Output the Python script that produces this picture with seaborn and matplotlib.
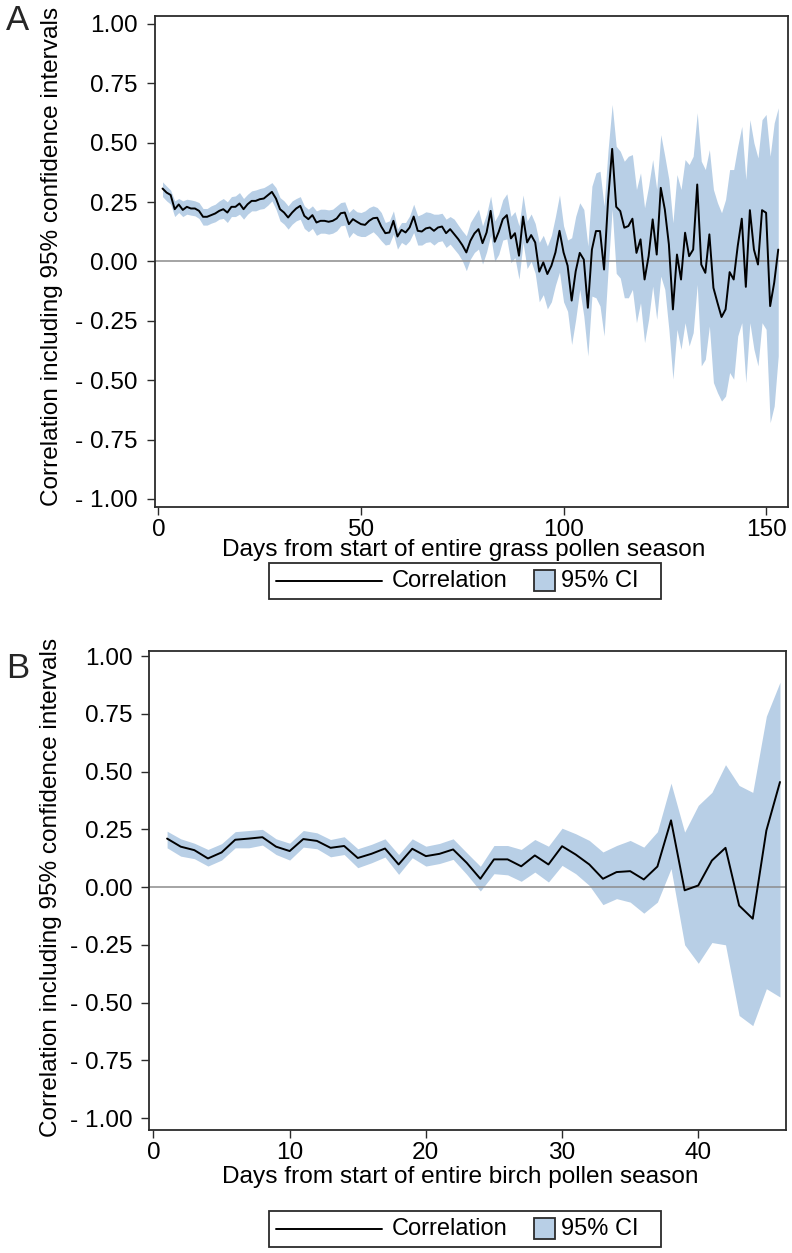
import matplotlib
matplotlib.use("Agg")
import numpy as np
import pandas as pd
import seaborn as sns
import matplotlib.pyplot as plt
from matplotlib.lines import Line2D
from matplotlib.patches import Rectangle
from matplotlib.offsetbox import DrawingArea, TextArea, HPacker, AnchoredOffsetbox

# ---------------- data ----------------
grass_day = list(range(1, 154))
grass_r = [0.307, 0.29, 0.28, 0.22, 0.24, 0.217, 0.23, 0.223, 0.223, 0.213,
           0.188, 0.188, 0.195, 0.202, 0.213, 0.22, 0.206, 0.23, 0.23, 0.244,
           0.22, 0.241, 0.255, 0.255, 0.262, 0.265, 0.279, 0.293, 0.265, 0.22,
           0.206, 0.185, 0.206, 0.223, 0.234, 0.192, 0.178, 0.195, 0.164, 0.171,
           0.171, 0.167, 0.171, 0.181, 0.203, 0.206, 0.157, 0.178, 0.167, 0.157,
           0.154, 0.171, 0.182, 0.184, 0.147, 0.119, 0.122, 0.171, 0.105, 0.133,
           0.122, 0.143, 0.189, 0.129, 0.126, 0.139, 0.143, 0.129, 0.143, 0.147,
           0.119, 0.136, 0.115, 0.094, 0.069, 0.038, 0.087, 0.118, 0.136, 0.077,
           0.122, 0.213, 0.083, 0.125, 0.178, 0.195, 0.097, 0.119, 0.024, 0.189,
           0.08, 0.111, 0.08, -0.043, -0.004, -0.053, -0.018, 0.038, 0.129, 0.038,
           -0.018, -0.165, -0.041, 0.036, 0.008, -0.195, 0.05, 0.128, 0.128, -0.034,
           0.261, 0.474, 0.23, 0.212, 0.142, 0.149, 0.18, 0.036, 0.093, -0.076,
           0.022, 0.177, 0.029, 0.31, 0.219, 0.072, -0.202, 0.029, -0.076, 0.121,
           0.022, 0.05, 0.324, -0.013, -0.048, 0.114, -0.111, -0.174, -0.234, -0.202,
           -0.045, -0.076, 0.065, 0.18, -0.107, 0.216, 0.05, -0.013, 0.216, 0.205,
           -0.188, -0.09, 0.05]
grass_lo = [0.273, 0.255, 0.241, 0.189, 0.206, 0.189, 0.199, 0.195, 0.192, 0.181,
            0.153, 0.153, 0.161, 0.167, 0.178, 0.181, 0.164, 0.189, 0.189, 0.199,
            0.178, 0.199, 0.213, 0.213, 0.22, 0.223, 0.237, 0.255, 0.22, 0.171,
            0.157, 0.136, 0.157, 0.171, 0.178, 0.139, 0.125, 0.139, 0.11, 0.119,
            0.119, 0.115, 0.119, 0.129, 0.15, 0.153, 0.1, 0.122, 0.11, 0.105,
            0.105, 0.115, 0.125, 0.108, 0.087, 0.069, 0.073, 0.115, 0.052, 0.08,
            0.069, 0.087, 0.122, 0.069, 0.069, 0.08, 0.083, 0.069, 0.083, 0.087,
            0.059, 0.073, 0.052, 0.031, 0.003, -0.039, 0.01, 0.038, 0.052, -0.011,
            0.04, 0.11, 0.0, 0.03, 0.09, 0.095, -0.005, 0.016, -0.075, 0.08,
            -0.03, 0.0, -0.05, -0.17, -0.14, -0.2, -0.17, -0.1, -0.045, -0.17,
            -0.21, -0.35, -0.244, -0.118, -0.23, -0.398, -0.146, -0.153, -0.188, -0.314,
            -0.034, 0.22, -0.05, -0.07, -0.153, -0.153, -0.118, -0.258, -0.174, -0.342,
            -0.244, -0.104, -0.244, -0.062, -0.118, -0.286, -0.496, -0.286, -0.37, -0.258,
            -0.356, -0.3, -0.097, -0.44, -0.412, -0.272, -0.51, -0.553, -0.588, -0.567,
            -0.468, -0.496, -0.314, -0.258, -0.51, -0.258, -0.37, -0.44, -0.258, -0.286,
            -0.679, -0.609, -0.398]
grass_hi = [0.335, 0.317, 0.3, 0.255, 0.265, 0.255, 0.262, 0.259, 0.255, 0.248,
            0.223, 0.223, 0.234, 0.241, 0.255, 0.265, 0.251, 0.273, 0.276, 0.29,
            0.265, 0.283, 0.297, 0.301, 0.307, 0.311, 0.321, 0.332, 0.311, 0.269,
            0.255, 0.234, 0.255, 0.265, 0.273, 0.234, 0.22, 0.234, 0.213, 0.22,
            0.22, 0.217, 0.22, 0.234, 0.248, 0.251, 0.206, 0.223, 0.209, 0.206,
            0.213, 0.227, 0.234, 0.227, 0.206, 0.164, 0.171, 0.213, 0.136, 0.164,
            0.164, 0.192, 0.241, 0.192, 0.199, 0.209, 0.206, 0.199, 0.199, 0.203,
            0.178, 0.189, 0.178, 0.153, 0.129, 0.108, 0.164, 0.192, 0.22, 0.15,
            0.2, 0.275, 0.17, 0.2, 0.26, 0.285, 0.19, 0.21, 0.15, 0.28,
            0.17, 0.2, 0.16, 0.08, 0.11, 0.065, 0.11, 0.19, 0.28, 0.15,
            0.09, 0.1, 0.19, 0.247, 0.219, 0.065, 0.317, 0.373, 0.38, 0.233,
            0.471, 0.661, 0.485, 0.464, 0.422, 0.443, 0.45, 0.303, 0.373, 0.226,
            0.317, 0.429, 0.303, 0.534, 0.443, 0.345, 0.163, 0.366, 0.303, 0.429,
            0.408, 0.443, 0.626, 0.422, 0.387, 0.471, 0.303, 0.247, 0.205, 0.261,
            0.387, 0.387, 0.485, 0.569, 0.345, 0.597, 0.499, 0.436, 0.597, 0.619,
            0.443, 0.583, 0.647]

birch_day = list(range(1, 47))
birch_r = [0.21, 0.175, 0.16, 0.124, 0.15, 0.205, 0.21, 0.216, 0.175, 0.156,
           0.208, 0.2, 0.17, 0.178, 0.126, 0.144, 0.167, 0.098, 0.166, 0.134,
           0.144, 0.163, 0.105, 0.036, 0.12, 0.12, 0.09, 0.137, 0.098, 0.177,
           0.141, 0.098, 0.036, 0.065, 0.069, 0.033, 0.089, 0.289, -0.014, 0.007,
           0.115, 0.17, -0.08, -0.137, 0.245, 0.455]
birch_lo = [0.17, 0.134, 0.123, 0.091, 0.117, 0.17, 0.17, 0.182, 0.141, 0.117,
            0.173, 0.166, 0.131, 0.141, 0.084, 0.105, 0.13, 0.055, 0.127, 0.091,
            0.102, 0.12, 0.055, -0.017, 0.058, 0.053, 0.025, 0.065, 0.022, 0.094,
            0.058, 0.007, -0.076, -0.05, -0.065, -0.113, -0.065, 0.08, -0.25, -0.33,
            -0.24, -0.25, -0.556, -0.6, -0.44, -0.476]
birch_hi = [0.242, 0.209, 0.19, 0.163, 0.188, 0.24, 0.245, 0.25, 0.209, 0.19,
            0.245, 0.235, 0.206, 0.218, 0.166, 0.185, 0.209, 0.141, 0.209, 0.177,
            0.189, 0.209, 0.149, 0.09, 0.18, 0.18, 0.163, 0.206, 0.177, 0.255,
            0.231, 0.202, 0.152, 0.18, 0.202, 0.173, 0.24, 0.45, 0.238, 0.354,
            0.41, 0.53, 0.44, 0.41, 0.74, 0.887]

y_ticks = [1.0, 0.75, 0.5, 0.25, 0.0, -0.25, -0.5, -0.75, -1.0]
y_tick_labels = ["1.00", "0.75", "0.50", "0.25", "0.00",
                 "- 0.25", "- 0.50", "- 0.75", "- 1.00"]
grass_xticks = [0, 50, 100, 150]
birch_xticks = [0, 10, 20, 30, 40]
ylabel_text = "Correlation including 95% confidence intervals"
grass_xlabel = "Days from start of entire grass pollen season"
birch_xlabel = "Days from start of entire birch pollen season"
legend_labels = ["Correlation", "95% CI"]

# ---------------- style ----------------
sns.set_theme(style="white")
plt.rcParams["font.family"] = ["Liberation Sans", "DejaVu Sans"]
BAND = "#b8cfe6"
FRAME = "#2b2b2b"
FS = 17.6
LFS = 17.0

fig = plt.figure(figsize=(7.92, 12.53), dpi=100)
axA = fig.add_axes([0.1952, 0.5954, 0.7997, 0.3919])
axB = fig.add_axes([0.1881, 0.0985, 0.8043, 0.3819])


def draw_panel(ax, days, r, lo, hi, xlim, ylim, xticks, xlabel, xlab_xy, ylab_xy):
    df = pd.DataFrame({"day": days, "r": r, "lo": lo, "hi": hi})
    ax.fill_between(df["day"], df["lo"], df["hi"], color=BAND, lw=0, zorder=1)
    ax.axhline(0, color="#8c8c8c", lw=1.1, zorder=2)
    sns.lineplot(data=df, x="day", y="r", ax=ax, color="black", lw=1.4,
                 errorbar=None, zorder=3)
    ax.set_xlim(*xlim)
    ax.set_ylim(*ylim)
    ax.set_yticks(y_ticks)
    ax.set_yticklabels(y_tick_labels)
    ax.set_xticks(xticks)
    ax.set_xticklabels([str(t) for t in xticks])
    ax.tick_params(axis="both", which="major", direction="out", length=6,
                   width=1.0, color=FRAME, labelsize=FS, labelcolor="black",
                   bottom=True, left=True, top=False, right=False)
    ax.tick_params(axis="x", pad=3)
    ax.tick_params(axis="y", pad=6)
    for sp in ax.spines.values():
        sp.set_visible(True)
        sp.set_color(FRAME)
        sp.set_linewidth(1.3)
    ax.set_xlabel(xlabel, fontsize=FS, color="black", va="center")
    ax.set_ylabel(ylabel_text, fontsize=FS, color="black", va="center")
    ax.xaxis.set_label_coords(*xlab_xy)
    ax.yaxis.set_label_coords(*ylab_xy)
    ax.grid(False)


draw_panel(axA, grass_day, grass_r, grass_lo, grass_hi, (-0.96, 155.4),
           (-1.034, 1.034), grass_xticks, grass_xlabel,
           (0.5 - 8 / 633.4, -(550 - 507) / 491),
           ((52 - 154.6) / 633.4, 0.5 + 5 / 491))
draw_panel(axB, birch_day, birch_r, birch_lo, birch_hi, (-0.33, 46.44),
           (-1.05, 1.022), birch_xticks, birch_xlabel,
           (0.5 - 7 / 637, -(1177 - 1129.6) / 478.6),
           ((51 - 149) / 637, 0.5 + 3 / 478.6))


def add_legend(center_xy):
    line_da = DrawingArea(76, 14, 0, 0)
    line_da.add_artist(Line2D([0, 76], [7, 7], color="black", lw=1.4))
    sq_da = DrawingArea(15.5, 15.5, 0, 0)
    sq_da.add_artist(Rectangle((0.5, 0.5), 15, 15, facecolor=BAND,
                               edgecolor=FRAME, lw=1.3))
    t1 = TextArea(legend_labels[0], textprops=dict(fontsize=LFS, color="black"))
    t2 = TextArea(legend_labels[1], textprops=dict(fontsize=LFS, color="black"))
    right_pad = DrawingArea(7, 1, 0, 0)
    g1 = HPacker(children=[line_da, t1], align="center", pad=0, sep=7)
    g2 = HPacker(children=[sq_da, t2, right_pad], align="center", pad=0, sep=4)
    box = HPacker(children=[g1, g2], align="center", pad=5, sep=19)
    anch = AnchoredOffsetbox(loc="center", child=box, pad=0, borderpad=0,
                             frameon=True, bbox_to_anchor=center_xy,
                             bbox_transform=fig.transFigure)
    anch.patch.set_boxstyle("square", pad=0)
    anch.patch.set_edgecolor(FRAME)
    anch.patch.set_linewidth(1.3)
    fig.add_artist(anch)


add_legend((465 / 792, 1 - 581 / 1253))
add_legend((465 / 792, 1 - 1229 / 1253))

fig.text(18 / 792, 1 - 20 / 1253, "A", fontsize=25, ha="center", va="center")
fig.text(18 / 792, 1 - 668 / 1253, "B", fontsize=25, ha="center", va="center")

fig.savefig("out.png", dpi=100, facecolor="white")
